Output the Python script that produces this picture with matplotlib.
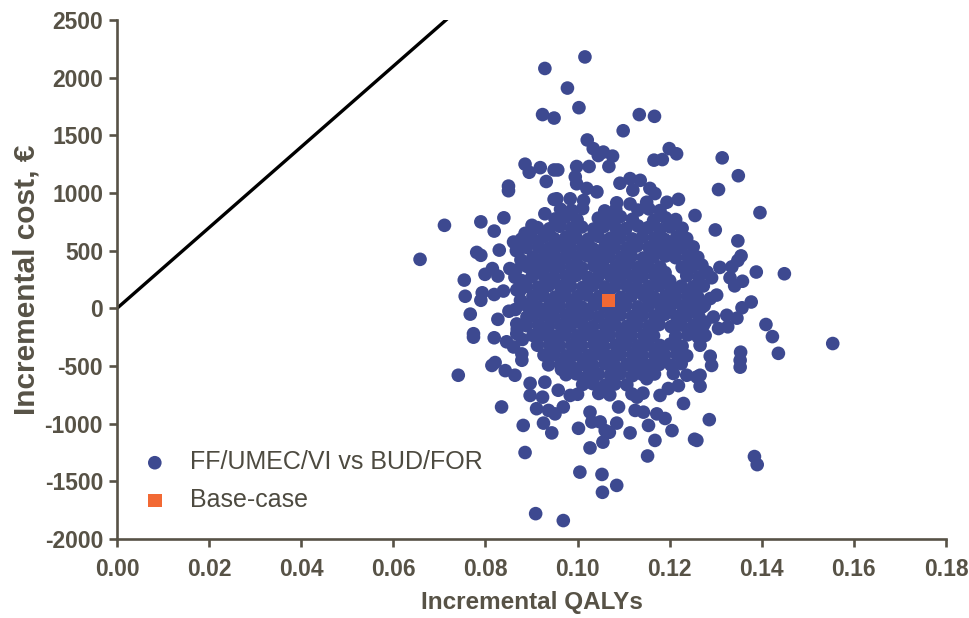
import matplotlib.pyplot as plt

plt.rcParams['font.family'] = ['Liberation Sans', 'DejaVu Sans']
plt.rcParams['axes.unicode_minus'] = False

axis_col = '#575246'
dot_col = '#3d4990'
base_col = '#f26934'

# willingness-to-pay threshold (EUR per QALY)
wtp = 35000

# base-case result
base_qaly = [0.1067]
base_cost = [70]

# PSA iterations - outer part of the cloud
edge_qaly = [
    0.0929, 0.0924, 0.0949, 0.0886, 0.0895, 0.0919, 0.0932, 0.0850, 0.0850, 0.0949, 0.0949,
    0.1016, 0.0978, 0.1003, 0.1134, 0.1167, 0.1099, 0.1021, 0.1034, 0.1056, 0.1045, 0.1076,
    0.1199, 0.1215, 0.1166, 0.1184, 0.0957, 0.0998, 0.1025, 0.1068, 0.0995, 0.0998, 0.1092,
    0.1114, 0.1136, 0.1120, 0.1157, 0.1168, 0.1020, 0.1042, 0.0955, 0.0984, 0.1013, 0.1085,
    0.1114, 0.1150, 0.1194, 0.1219,
    0.1314, 0.1349, 0.1306,
    0.0658, 0.0711, 0.0790, 0.0840, 0.0819, 0.0781, 0.0790, 0.0830, 0.0861, 0.0754, 0.0799,
    0.0815, 0.0827, 0.0853, 0.0756, 0.0793, 0.0819, 0.0839, 0.0790, 0.0767, 0.0827, 0.0851,
    0.0774, 0.0774, 0.0819, 0.0846, 0.0868, 0.0821, 0.0879, 0.0901, 0.0929, 0.0937, 0.0871,
    0.0886, 0.0864, 0.0875, 0.0882, 0.0890, 0.0868, 0.0861, 0.0879,
    0.1396, 0.1299, 0.1348, 0.1355, 0.1348, 0.1309, 0.1335, 0.1388, 0.1449, 0.1331, 0.1358,
    0.1341, 0.1270, 0.1281, 0.1291, 0.1259, 0.1302, 0.1288, 0.1377, 0.1357, 0.1270, 0.1324,
    0.1346, 0.1295, 0.1277, 0.1409, 0.1326, 0.1306, 0.1423, 0.1554, 0.1436, 0.1354, 0.1353,
    0.1288, 0.1266, 0.1262, 0.1277, 0.1255,
    0.0741, 0.0814, 0.0843, 0.0864, 0.0897, 0.0929, 0.0835, 0.0897, 0.0924, 0.0911, 0.0937,
    0.0882, 0.0926, 0.0944, 0.0886, 0.0909,
    0.0969, 0.1005, 0.1053, 0.1054, 0.1085, 0.1027, 0.1055, 0.1069, 0.1114, 0.1152, 0.1168,
    0.1154, 0.1205, 0.1190, 0.1172, 0.1230, 0.1254, 0.1002, 0.1085, 0.1031, 0.1049, 0.1060,
    0.1027, 0.0969, 0.0951, 0.0958, 0.0984, 0.1089, 0.1125, 0.1143, 0.1129, 0.1179, 0.1208,
    0.1237, 0.1259, 0.1219, 0.1197,
    0.1291, 0.1353, 0.1266, 0.1266, 0.1286, 0.1259, 0.1384, 0.1390,
]
edge_cost = [
    2080, 1680, 1650, 1250, 1180, 1220, 1100, 1060, 1020, 1200, 945,
    2180, 1910, 1740, 1680, 1665, 1540, 1460, 1385, 1355, 1325, 1320,
    1385, 1340, 1285, 1290, 1200, 1230, 1230, 1230, 1140, 1080, 1085,
    1125, 1110, 1025, 1040, 995, 1040, 1010, 950, 950, 935, 915,
    905, 920, 920, 945,
    1305, 1150, 1030,
    425, 720, 750, 785, 670, 485, 460, 505, 575, 245, 295,
    345, 280, 345, 105, 135, 120, 150, 70, -50, -95, -25,
    -220, -250, -255, -290, -220, -470, -395, 720, 820, 650, 505,
    650, 270, 155, 40, -75, -135, -335, -450,
    830, 680, 585, 455, 415, 355, 360, 315, 300, 265, 235,
    195, 375, 315, 265, 185, 115, 85, 55, 5, 10, -60,
    -85, -75, -120, -140, -160, -175, -245, -305, -390, -380, -450,
    -415, -320, -250, -235, 805,
    -580, -495, -540, -580, -650, -640, -855, -755, -770, -870, -885,
    -1015, -995, -1080, -1250, -1780,
    -1840, -1420, -1440, -1595, -1535, -1210, -1160, -1075, -1080, -1280, -1145,
    -1015, -1060, -955, -915, -825, -1135, -1040, -995, -985, -985, -1060,
    -900, -855, -915, -710, -755, -855, -885, -900, -770, -755, -565,
    -580, -595, -670, -695,
    -495, -510, -580, -675, -965, -1145, -1285, -1355,
]

# PSA iterations - dense centre of the cloud (row by row)
core_qaly = [
    0.0963, 0.0987, 0.1011, 0.1059, 0.1083, 0.1131, 0.1155, 0.1179,
    0.0951, 0.0973, 0.0999, 0.1045, 0.1071, 0.1093, 0.1119, 0.1165, 0.1191, 0.1213,
    0.0913, 0.0939, 0.0961, 0.0987, 0.1009, 0.1035, 0.1057, 0.1083, 0.1105, 0.1131, 0.1153, 0.1179, 0.1201, 0.1227,
    0.0901, 0.0927, 0.0949, 0.0975, 0.0997, 0.1023, 0.1045, 0.1071, 0.1093, 0.1119, 0.1141, 0.1167, 0.1189, 0.1215, 0.1237,
    0.0889, 0.0915, 0.0937, 0.0963, 0.0985, 0.1011, 0.1033, 0.1059, 0.1081, 0.1107, 0.1129, 0.1155, 0.1177, 0.1203, 0.1225, 0.1251,
    0.0903, 0.0925, 0.0951, 0.0973, 0.0999, 0.1021, 0.1047, 0.1069, 0.1095, 0.1117, 0.1143, 0.1165, 0.1191, 0.1213, 0.1239, 0.1261,
    0.0891, 0.0913, 0.0939, 0.0961, 0.0987, 0.1009, 0.1035, 0.1057, 0.1083, 0.1105, 0.1131, 0.1153, 0.1179, 0.1227, 0.1249,
    0.0901, 0.0927, 0.0949, 0.0975, 0.0997, 0.1023, 0.1045, 0.1071, 0.1093, 0.1119, 0.1141, 0.1167, 0.1189, 0.1237, 0.1263,
    0.0889, 0.0915, 0.0937, 0.0963, 0.0985, 0.1011, 0.1033, 0.1059, 0.1081, 0.1107, 0.1129, 0.1155, 0.1177, 0.1203, 0.1225, 0.1251, 0.1273,
    0.0903, 0.0925, 0.0951, 0.0973, 0.0999, 0.1021, 0.1047, 0.1069, 0.1095, 0.1117, 0.1143, 0.1165, 0.1191, 0.1213, 0.1239, 0.1261,
    0.0891, 0.0913, 0.0939, 0.0961, 0.0987, 0.1009, 0.1035, 0.1057, 0.1083, 0.1105, 0.1131, 0.1153, 0.1179, 0.1201, 0.1227, 0.1249, 0.1275,
    0.0901, 0.0927, 0.0949, 0.0975, 0.0997, 0.1023, 0.1045, 0.1071, 0.1093, 0.1119, 0.1141, 0.1167, 0.1189, 0.1215, 0.1237, 0.1263,
    0.0889, 0.0915, 0.0937, 0.0963, 0.0985, 0.1011, 0.1033, 0.1059, 0.1081, 0.1107, 0.1129, 0.1155, 0.1177, 0.1203, 0.1225, 0.1251, 0.1273,
    0.0903, 0.0925, 0.0951, 0.0973, 0.0999, 0.1021, 0.1047, 0.1069, 0.1095, 0.1117, 0.1143, 0.1165, 0.1213, 0.1239, 0.1261,
    0.0913, 0.0939, 0.0961, 0.0987, 0.1009, 0.1035, 0.1057, 0.1083, 0.1105, 0.1131, 0.1153, 0.1179, 0.1201, 0.1227,
    0.0927, 0.0949, 0.0975, 0.0997, 0.1023, 0.1045, 0.1071, 0.1093, 0.1119, 0.1141, 0.1167, 0.1189, 0.1215, 0.1237,
    0.0937, 0.0963, 0.0985, 0.1011, 0.1033, 0.1059, 0.1081, 0.1107, 0.1129, 0.1155, 0.1177, 0.1203, 0.1225,
    0.0975, 0.0997, 0.1023, 0.1045, 0.1071, 0.1093, 0.1119, 0.1141, 0.1167,
    0.1011, 0.1033, 0.1059, 0.1081, 0.1107,
    0.1000, 0.1046, 0.1070, 0.1118, 0.1142,
    # left shoulder and scattered fill
    0.0867, 0.0878, 0.0866, 0.0877, 0.0868, 0.0879, 0.0865, 0.0876, 0.0869, 0.0880,
    0.1110, 0.1100, 0.1045, 0.1080, 0.1130, 0.0965, 0.1200, 0.1190, 0.1020, 0.1150,
]
core_cost = [
    860, 850, 865, 845, 858, 852, 862, 848,
    775, 790, 768, 782, 770, 795, 772, 760, 785, 770,
    700, 690, 712, 695, 705, 688, 710, 698, 692, 715, 700, 685, 706, 695,
    610, 622, 605, 618, 612, 600, 625, 608, 615, 602, 620, 610, 598, 617, 606,
    528, 535, 520, 540, 526, 532, 518, 537, 529, 524, 541, 530, 519, 536, 527, 533,
    445, 438, 452, 440, 447, 455, 436, 449, 442, 451, 437, 446, 454, 439, 448, 443,
    362, 355, 368, 358, 364, 352, 370, 357, 361, 366, 354, 363, 359, 356, 360,
    275, 282, 270, 279, 285, 268, 277, 284, 272, 280, 274, 287, 269, 283, 271,
    190, 184, 197, 188, 193, 182, 199, 186, 191, 195, 183, 189, 198, 185, 192, 187, 194,
    105, 112, 98, 108, 101, 115, 103, 110, 96, 107, 113, 100, 109, 104, 111, 99,
    20, 14, 27, 18, 23, 12, 29, 16, 21, 25, 13, 19, 28, 15, 22, 17, 24,
    -65, -58, -72, -61, -68, -55, -74, -63, -57, -70, -60, -66, -53, -71, -62, -67,
    -150, -143, -157, -146, -153, -141, -159, -148, -144, -155, -147, -152, -140, -158, -145, -151, -149,
    -235, -228, -242, -231, -238, -226, -244, -233, -229, -240, -232, -237, -243, -230, -236,
    -320, -313, -327, -316, -323, -311, -329, -318, -314, -325, -317, -322, -310, -328,
    -405, -398, -412, -401, -408, -396, -414, -403, -399, -410, -402, -407, -395, -411,
    -490, -483, -497, -486, -493, -481, -499, -488, -484, -495, -487, -492, -480,
    -575, -568, -582, -571, -578, -566, -584, -573, -569,
    -660, -653, -667, -656, -663,
    -745, -738, -750, -742, -735,
    500, 600, 330, 420, 160, 240, -10, 70, -180, -270,
    400, 320, 480, -520, -530, -530, 240, 310, -600, -610,
]

x_ticks = [0.00, 0.02, 0.04, 0.06, 0.08, 0.10, 0.12, 0.14, 0.16, 0.18]
y_ticks = [-2000, -1500, -1000, -500, 0, 500, 1000, 1500, 2000, 2500]

fig = plt.figure(figsize=(9.7, 6.18), dpi=100)
ax = fig.add_axes([0.1206, 0.1278, 0.8547, 0.8398])

# WTP line
ax.plot([0, 0.18], [0, wtp * 0.18], color='black', lw=2.4, zorder=2)

ax.scatter(edge_qaly + core_qaly, edge_cost + core_cost, s=96, color=dot_col,
           edgecolors='none', zorder=3, label='FF/UMEC/VI vs BUD/FOR')
ax.scatter(base_qaly, base_cost, s=95, marker='s', color=base_col,
           edgecolors='none', zorder=4, label='Base-case')

ax.set_xlim(0, 0.18)
ax.set_ylim(-2000, 2500)
ax.set_xticks(x_ticks)
ax.set_xticklabels(['%.2f' % t for t in x_ticks])
ax.set_yticks(y_ticks)

for s in ['top', 'right']:
    ax.spines[s].set_visible(False)
for s in ['left', 'bottom']:
    ax.spines[s].set_color(axis_col)
    ax.spines[s].set_linewidth(1.9)
ax.tick_params(colors=axis_col, width=1.9, length=6, labelsize=16.5)
ax.tick_params(axis='x', pad=8)
ax.tick_params(axis='y', pad=4)
for lab in ax.get_xticklabels() + ax.get_yticklabels():
    lab.set_fontweight('bold')

ax.set_xlabel('Incremental QALYs', fontsize=17.5, fontweight='bold', color=axis_col, labelpad=7)
ax.set_ylabel('Incremental cost, €', fontsize=21.5, fontweight='bold', color=axis_col, labelpad=3)

leg = ax.legend(loc='lower left', bbox_to_anchor=(0.023, 0.052), frameon=False,
                fontsize=18, handlelength=1.5, handletextpad=0.66, labelspacing=0.55,
                borderpad=0, borderaxespad=0)
for t in leg.get_texts():
    t.set_color('#4d4a40')

fig.savefig('out.png', dpi=100)
